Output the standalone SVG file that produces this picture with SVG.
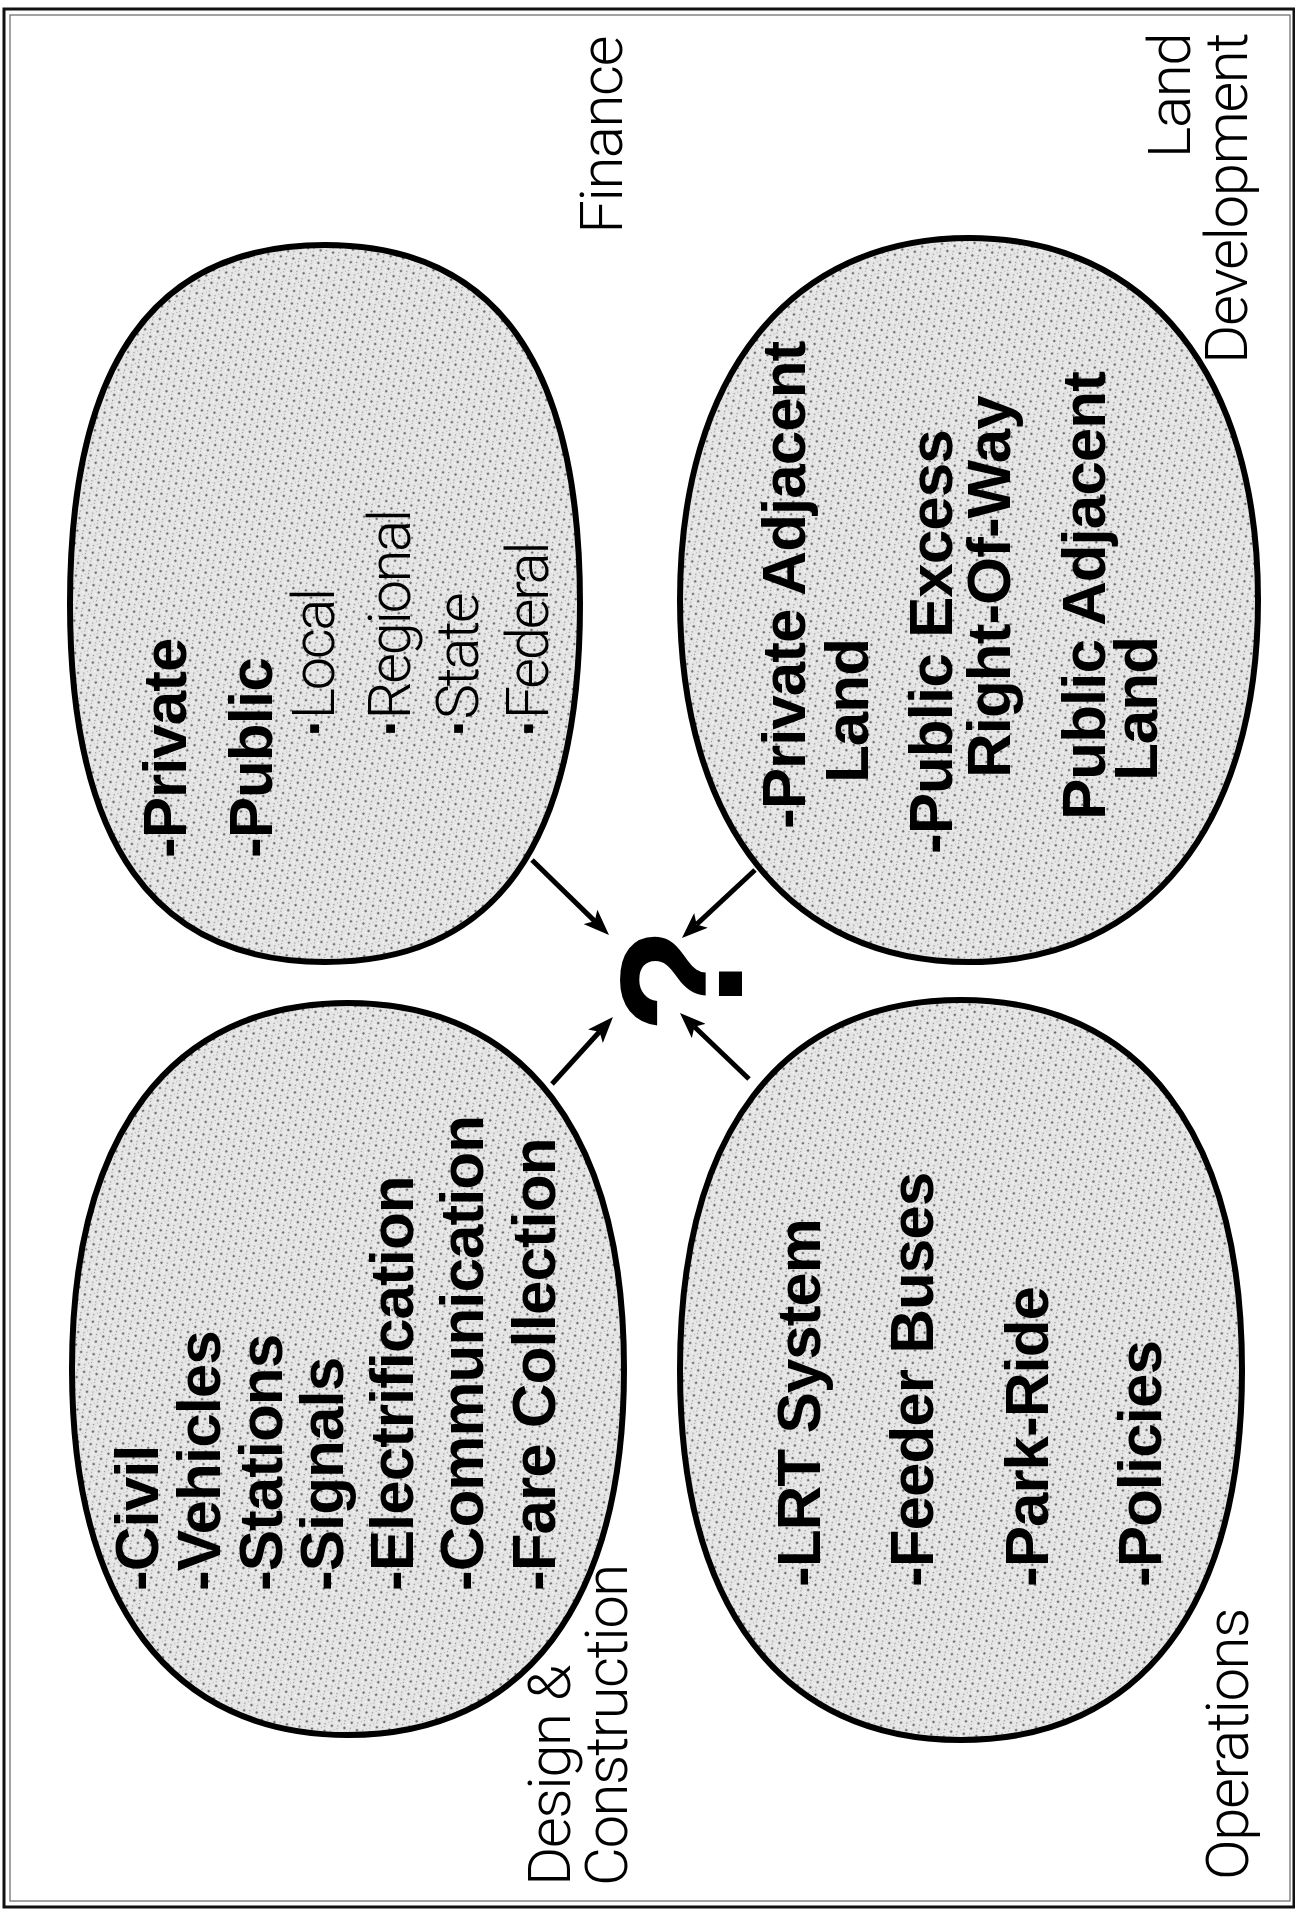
<svg xmlns="http://www.w3.org/2000/svg" width="1295" height="1918" viewBox="0 0 1295 1918">
<defs>
<pattern id="stipple" width="9" height="9" patternUnits="userSpaceOnUse" patternTransform="rotate(-35)">
<rect width="9" height="9" fill="#e6e6e6"/>
<circle cx="2" cy="2" r="1.3" fill="#6e6e6e"/>
<rect x="6" y="5" width="1.2" height="1.2" fill="#8c8c8c"/>
<rect x="4" y="7" width="1" height="1" fill="#9a9a9a"/>
<rect x="7" y="1" width="1.2" height="1.2" fill="#ffffff"/>
<rect x="1" y="6" width="1" height="1" fill="#b0b0b0"/>
</pattern>
<marker id="arrow" viewBox="0 0 26 20" refX="6" refY="10" markerWidth="26" markerHeight="20" markerUnits="userSpaceOnUse" orient="auto">
<path d="M0,0 L26,10 L0,20 L6,10 Z" fill="#000"/>
</marker>
<style>
.frame-o{fill:none;stroke:#111;stroke-width:3}
.frame-i{fill:none;stroke:#666;stroke-width:1.2}
.blob{fill:url(#stipple);stroke:#000;stroke-width:6}
.item{font-family:"Liberation Sans",Arial,Helvetica,sans-serif;font-weight:700;font-size:62px;letter-spacing:-1px;fill:#000}
.sub{font-family:Roboto,"Liberation Sans",Arial,sans-serif;font-weight:300;font-size:60px;letter-spacing:-2.5px;fill:#000}
.dot{font-family:"Liberation Sans",Arial,sans-serif;font-weight:700}
.label{font-family:Roboto,"Liberation Sans",Arial,sans-serif;font-weight:300;font-size:60px;letter-spacing:-1.5px;fill:#000}
.qm{font-family:"Liberation Sans",Arial,Helvetica,sans-serif;font-weight:700;font-size:175px;fill:#000}
.conn{fill:none;stroke:#000;stroke-width:5;marker-end:url(#arrow)}
</style>
</defs>
<rect width="1295" height="1918" fill="#fff"/>
<rect class="frame-o" x="4" y="9" width="1290" height="1898"/>
<rect class="frame-i" x="10" y="15" width="1280" height="1886"/>

<g id="node-finance">
<path class="blob" d="M 70,603.5 C 70,363.3 154.2,245 325,245 C 495.8,245 580,363.3 580,603.5 C 580,843.7 495.8,962 325,962 C 154.2,962 70,843.7 70,603.5 Z"/>
<g transform="matrix(0,-1,1,0,0,1918)">
<text class="item" x="1060" y="186">-Private</text>
<text class="item" x="1060" y="272">-Public</text>
<text class="sub" x="1181" y="334"><tspan class="dot">·</tspan>Local</text>
<text class="sub" x="1181" y="410"><tspan class="dot">·</tspan>Regional</text>
<text class="sub" x="1181" y="478"><tspan class="dot">·</tspan>State</text>
<text class="sub" x="1181" y="548"><tspan class="dot">·</tspan>Federal</text>
<text class="label" x="1881" y="622" text-anchor="end">Finance</text>
</g>
</g>

<g id="node-land">
<path class="blob" d="M 680,600 C 680,375.6 789.8,238 969,238 C 1148.2,238 1258,375.6 1258,600 C 1258,824.4 1148.2,962 969,962 C 789.8,962 680,824.4 680,600 Z"/>
<g transform="matrix(0,-1,1,0,0,1918)">
<text class="item" x="1089" y="805">-Private Adjacent</text>
<text class="item" x="1135" y="868">Land</text>
<text class="item" x="1064" y="952">-Public Excess</text>
<text class="item" x="1140" y="1010">Right-Of-Way</text>
<text class="item" x="1098" y="1105">Public Adjacent</text>
<text class="item" x="1137" y="1157">Land</text>
<text class="label" x="1884" y="1190" text-anchor="end">Land</text>
<text class="label" x="1884" y="1247" text-anchor="end">Development</text>
</g>
</g>

<g id="node-design">
<path class="blob" d="M 72,1369 C 72,1134.8 171.4,1003 348,1003 C 524.6,1003 624,1134.8 624,1369 C 624,1603.2 524.6,1735 348,1735 C 171.4,1735 72,1603.2 72,1369 Z"/>
<g transform="matrix(0,-1,1,0,0,1918)">
<text class="item" x="327" y="158">-Civil</text>
<text class="item" x="327" y="220">-Vehicles</text>
<text class="item" x="327" y="282">-Stations</text>
<text class="item" x="327" y="343">-Signals</text>
<text class="item" x="327" y="413">-Electrification</text>
<text class="item" x="327" y="483">-Communication</text>
<text class="item" x="327" y="555">-Fare Collection</text>
<text class="label" x="32" y="570">Design &amp;</text>
<text class="label" x="32" y="627">Construction</text>
</g>
</g>

<g id="node-operations">
<path class="blob" d="M 680,1370 C 680,1133.2 781.2,1000 961,1000 C 1140.8,1000 1242,1133.2 1242,1370 C 1242,1606.8 1140.8,1740 961,1740 C 781.2,1740 680,1606.8 680,1370 Z"/>
<g transform="matrix(0,-1,1,0,0,1918)">
<text class="item" x="331" y="820">-LRT System</text>
<text class="item" x="331" y="933">-Feeder Buses</text>
<text class="item" x="331" y="1048">-Park-Ride</text>
<text class="item" x="331" y="1161">-Policies</text>
<text class="label" x="38" y="1248">Operations</text>
</g>
</g>

<g id="node-question">
<g transform="matrix(0,-1,1,0,0,1918)">
<text class="qm" x="938" y="742" text-anchor="middle">?</text>
</g>
</g>

<g id="connectors">
<path class="conn" d="M532,860 L594.7,921.1"/>
<path class="conn" d="M755,870 L696.6,924.4"/>
<path class="conn" d="M552,1084 L599.5,1031.8"/>
<path class="conn" d="M749,1079 L694.4,1026.8"/>
</g>
</svg>
